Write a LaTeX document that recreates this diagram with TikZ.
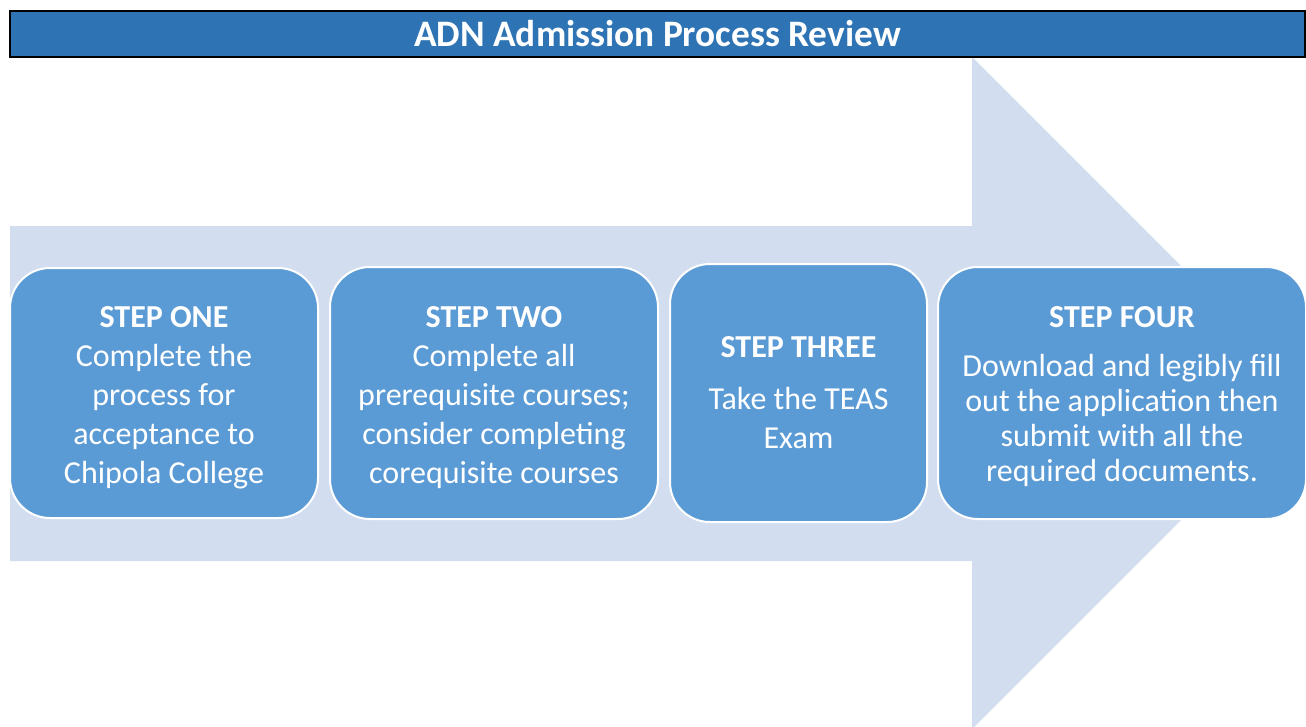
\documentclass[tikz,border=0pt]{standalone}
\usepackage{fontspec}
\setmainfont{Carlito}
\usetikzlibrary{positioning}
\definecolor{titleblue}{HTML}{2E74B5}
\definecolor{stepblue}{HTML}{5B9BD5}
\definecolor{arrowblue}{HTML}{D2DEEF}

\begin{document}
\begin{tikzpicture}[x=0.75pt, y=-0.75pt, node distance=7.5pt]
	\tikzstyle{obj} = [draw=white, line width=1.5pt, fill=stepblue, rounded corners=30pt, align=center, text=white, font=\fontsize{24}{29.25}\selectfont]
	\tikzstyle{bar} = [draw=black, line width=1.5pt, fill=titleblue, text=white, font=\bfseries\fontsize{28}{34}\selectfont]

	\useasboundingbox (0,0) rectangle (1306,726);
	\clip (0,0) rectangle (1306,726);

	% big background arrow
	\fill[arrowblue] (10,226) -- (972,226) -- (972,57) -- (1308,393) -- (972,729) -- (972,561) -- (10,561) -- cycle;

	\node[bar, minimum width=971.25pt, minimum height=34.5pt] (title) at (657.5,33.5) {ADN Admission Process Review};

	\node[obj, minimum width=231pt, minimum height=187.5pt] (step1) at (164,393) {\rule{0pt}{23pt}\textbf{STEP ONE}\\Complete the\\process for\\acceptance to\\Chipola College};
	\node[obj, minimum width=246pt, minimum height=189pt, right=of step1] (step2) {\rule{0pt}{23pt}\textbf{STEP TWO}\\Complete all\\prerequisite courses;\\consider completing\\corequisite courses};
	\node[obj, minimum width=192.75pt, minimum height=193.5pt, right=of step2] (step3) {\textbf{STEP THREE}\\[9.75pt]Take the TEAS\\Exam};
	\node[obj, minimum width=276pt, minimum height=189pt, right=6.75pt of step3, font=\fontsize{24}{26.25}\selectfont] (step4) {\rule{0pt}{20.5pt}\textbf{STEP FOUR}\\[10.5pt]Download and legibly fill\\out the application then\\submit with all the\\required documents.};
\end{tikzpicture}
\end{document}
